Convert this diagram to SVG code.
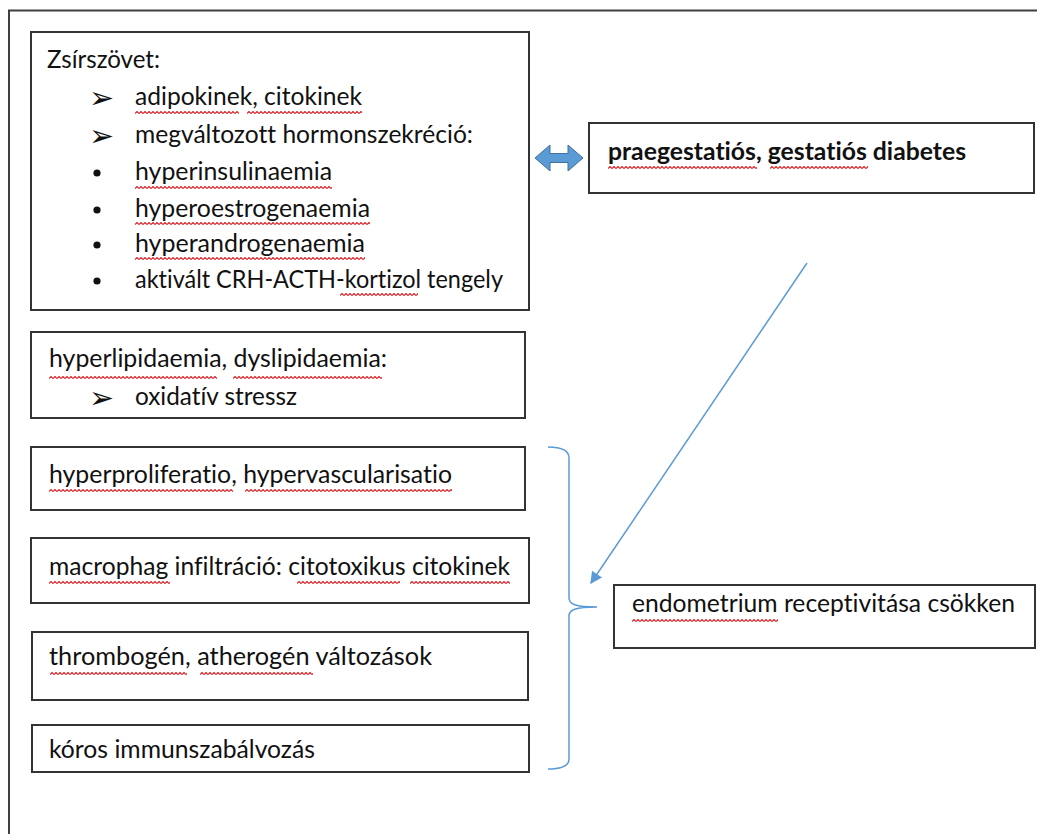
<svg xmlns="http://www.w3.org/2000/svg" width="1037" height="834" viewBox="0 0 1037 834">
<style>
.box{fill:#fff;stroke:#333;stroke-width:2}
.t{font-family:Lato,"Liberation Sans",sans-serif;font-size:25px;fill:#111;font-variant-ligatures:none}
.b{font-weight:bold}
.sym{font-family:"DejaVu Sans",sans-serif;font-size:30px;fill:#111}
.dot{fill:#111}
.conn{fill:none;stroke:#5b9bd5;stroke-width:1.5}
.frame{fill:none;stroke:#404040;stroke-width:2}
</style>
<defs>
<pattern id="wave" patternUnits="userSpaceOnUse" width="4" height="3">
<path d="M0,2.5 L2,0.5 L4,2.5" fill="none" stroke="#d9262a" stroke-width="1.2"/>
</pattern>
<marker id="ah" viewBox="0 0 10 10" refX="9" refY="5" markerWidth="14" markerHeight="12" orient="auto" markerUnits="userSpaceOnUse">
<path d="M0,0 L10,5 L0,10 Z" fill="#5b9bd5"/>
</marker>
</defs>
<rect width="1037" height="834" fill="#fff"/>
<path class="frame" d="M9,834 L9,10.5 L1037,10.5"/>

<g id="node-zsirszovet">
<rect class="box" x="31" y="32" width="498" height="278"/>
<text class="t" x="47" y="68" textLength="113" lengthAdjust="spacingAndGlyphs">Zsírszövet:</text>
<text class="sym" x="89" y="108">➢</text>
<text class="t" x="135" y="105" textLength="227" lengthAdjust="spacingAndGlyphs">adipokinek, citokinek</text>
<text class="sym" x="89" y="146">➢</text>
<text class="t" x="135" y="143" textLength="338" lengthAdjust="spacingAndGlyphs">megváltozott hormonszekréció:</text>
<circle class="dot" cx="97" cy="173" r="3.6"/>
<text class="t" x="135" y="180" textLength="197" lengthAdjust="spacingAndGlyphs">hyperinsulinaemia</text>
<circle class="dot" cx="97" cy="210" r="3.6"/>
<text class="t" x="135" y="217" textLength="235" lengthAdjust="spacingAndGlyphs">hyperoestrogenaemia</text>
<circle class="dot" cx="97" cy="245" r="3.6"/>
<text class="t" x="135" y="252" textLength="230" lengthAdjust="spacingAndGlyphs">hyperandrogenaemia</text>
<circle class="dot" cx="97" cy="281" r="3.6"/>
<text class="t" x="135" y="288" textLength="368" lengthAdjust="spacingAndGlyphs">aktivált CRH-ACTH-kortizol tengely</text>
<g fill="url(#wave)">
<rect transform="translate(135,111)" width="104" height="3"/>
<rect transform="translate(247,111)" width="115" height="3"/>
<rect transform="translate(135,186)" width="197" height="3"/>
<rect transform="translate(135,222)" width="235" height="3"/>
<rect transform="translate(135,257)" width="230" height="3"/>
<rect transform="translate(340,293)" width="78" height="3"/>
</g>
</g>

<g id="node-hyperlipidaemia">
<rect class="box" x="31" y="332" width="494" height="86"/>
<text class="t" x="49" y="367" textLength="338" lengthAdjust="spacingAndGlyphs">hyperlipidaemia, dyslipidaemia:</text>
<text class="sym" x="89" y="408">➢</text>
<text class="t" x="135" y="405" textLength="162" lengthAdjust="spacingAndGlyphs">oxidatív stressz</text>
<g fill="url(#wave)">
<rect transform="translate(49,376)" width="168" height="3"/>
<rect transform="translate(233,376)" width="149" height="3"/>
</g>
</g>

<g id="node-hyperproliferatio">
<rect class="box" x="31" y="447" width="494" height="63"/>
<text class="t" x="49" y="483" textLength="403" lengthAdjust="spacingAndGlyphs">hyperproliferatio, hypervascularisatio</text>
<g fill="url(#wave)">
<rect transform="translate(49,489)" width="184" height="3"/>
<rect transform="translate(245,489)" width="207" height="3"/>
</g>
</g>

<g id="node-macrophag">
<rect class="box" x="31" y="538" width="498" height="65"/>
<text class="t" x="49" y="575" textLength="461" lengthAdjust="spacingAndGlyphs">macrophag infiltráció: citotoxikus citokinek</text>
<g fill="url(#wave)">
<rect transform="translate(49,581)" width="121" height="3"/>
<rect transform="translate(297,581)" width="103" height="3"/>
<rect transform="translate(410,581)" width="100" height="3"/>
</g>
</g>

<g id="node-thrombogen">
<rect class="box" x="32" y="632" width="496" height="68"/>
<text class="t" x="49" y="665" textLength="383" lengthAdjust="spacingAndGlyphs">thrombogén, atherogén változások</text>
<g fill="url(#wave)">
<rect transform="translate(50,672)" width="137" height="3"/>
<rect transform="translate(200,672)" width="113" height="3"/>
</g>
</g>

<g id="node-koros">
<rect class="box" x="32" y="725" width="497" height="47"/>
<text class="t" x="49" y="758" textLength="266" lengthAdjust="spacingAndGlyphs">kóros immunszabálvozás</text>
</g>

<g id="node-diabetes">
<rect class="box" x="589" y="123" width="445" height="70"/>
<text class="t b" x="608" y="160" textLength="358" lengthAdjust="spacingAndGlyphs">praegestatiós, gestatiós diabetes</text>
<g fill="url(#wave)">
<rect transform="translate(608,166)" width="149" height="3"/>
<rect transform="translate(770,166)" width="98" height="3"/>
</g>
</g>

<g id="node-endometrium">
<rect class="box" x="614" y="585" width="421" height="63"/>
<text class="t" x="632" y="612" textLength="383" lengthAdjust="spacingAndGlyphs">endometrium receptivitása csökken</text>
<g fill="url(#wave)">
<rect transform="translate(632,619)" width="146" height="3"/>
</g>
</g>

<g id="connectors">
<polygon points="535,158 550,145 550,153.5 568,153.5 568,145 583,158 568,171 568,162.5 550,162.5 550,171" fill="#5b9bd5" stroke="#41719c" stroke-width="1"/>
<line class="conn" x1="807" y1="263" x2="591" y2="583" marker-end="url(#ah)"/>
<path class="conn" d="M548,447 C562,447 569,450 569,458 L569,598 C569,604 575,607 597,607 C575,607 569,610 569,616 L569,759 C569,766 562,769 548,769"/>
</g>
</svg>
